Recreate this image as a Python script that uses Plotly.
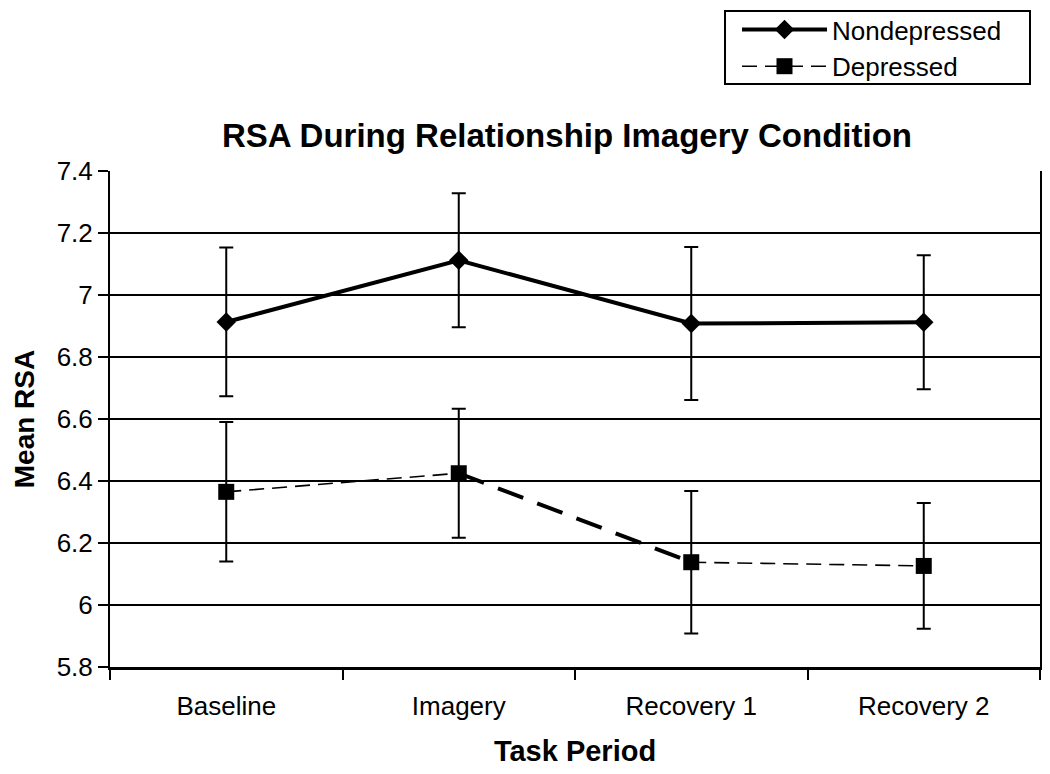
import plotly.graph_objects as go

categories = ["Baseline", "Imagery", "Recovery 1", "Recovery 2"]
nondep_mean = [6.913, 7.112, 6.908, 6.912]
nondep_err = [0.240, 0.216, 0.247, 0.216]
dep_mean = [6.365, 6.425, 6.138, 6.126]
dep_err = [0.225, 0.208, 0.230, 0.203]
y_ticks = [5.8, 6.0, 6.2, 6.4, 6.6, 6.8, 7.0, 7.2, 7.4]
y_ticktext = ["5.8", "6", "6.2", "6.4", "6.6", "6.8", "7", "7.2", "7.4"]

FONT = "Arial, Liberation Sans, sans-serif"
W, H = 1050, 774
ML, MR, MT, MB = 102, 18, 163, 115
PW, PH = W - ML - MR, H - MT - MB


def px_to_paper_x(px):
    return (px - ML) / PW


def px_to_paper_y(py):
    return (H - MB - py) / PH


fig = go.Figure()

fig.add_trace(go.Scatter(
    x=categories, y=nondep_mean, name="Nondepressed", mode="lines+markers",
    line=dict(color="black", width=4),
    marker=dict(symbol="diamond", size=15, color="black"),
    error_y=dict(type="data", array=nondep_err, color="black", thickness=2, width=7),
))

# thick dashed middle segment (Imagery -> Recovery 1)
fig.add_trace(go.Scatter(
    x=categories[1:3], y=dep_mean[1:3], mode="lines", showlegend=False,
    line=dict(color="black", width=4, dash="27px,15px"), hoverinfo="skip",
))

# main depressed trace: thin dashed outer segments with gap in the middle
dx = categories[0:2] + [categories[1]] + categories[2:4]
dy = dep_mean[0:2] + [None] + dep_mean[2:4]
de = dep_err[0:2] + [0] + dep_err[2:4]
fig.add_trace(go.Scatter(
    x=dx, y=dy, name="Depressed", mode="lines+markers", connectgaps=False,
    line=dict(color="black", width=1.6, dash="15px,8px"),
    marker=dict(symbol="square", size=16, color="black"),
    error_y=dict(type="data", array=de, color="black", thickness=2, width=7),
))

# legend frame
fig.add_shape(type="rect", xref="paper", yref="paper",
              x0=px_to_paper_x(717), x1=px_to_paper_x(1022),
              y0=px_to_paper_y(76), y1=px_to_paper_y(3),
              line=dict(color="black", width=2), fillcolor="rgba(0,0,0,0)", layer="above")

fig.update_layout(
    width=W, height=H,
    margin=dict(l=ML, r=MR, t=MT, b=MB, autoexpand=False),
    paper_bgcolor="white", plot_bgcolor="white",
    font=dict(family=FONT, color="black", size=26),
    title=dict(text="<b>RSA During Relationship Imagery Condition</b>",
               x=559 / 1050, xanchor="center", y=1 - 127 / 774, yanchor="middle",
               font=dict(size=33, family=FONT, color="black")),
    showlegend=True,
    legend=dict(x=729 / 1050, xanchor="left", y=px_to_paper_y(-2), yanchor="top",
                xref="container", yref="paper",
                borderwidth=0, bgcolor="rgba(0,0,0,0)",
                font=dict(size=26, family=FONT), itemwidth=85,
                tracegroupgap=0),
    xaxis=dict(
        type="category", categoryorder="array", categoryarray=categories,
        range=[-0.5, 3.5], tickson="boundaries", ticks="outside", ticklen=10,
        tickwidth=1.5, tickcolor="black", showline=True, linecolor="black",
        linewidth=2.5, showgrid=False, ticklabelstandoff=14, automargin=False,
        tickfont=dict(size=26, family=FONT),
        title=dict(text="<b>Task Period</b>", font=dict(size=29, family=FONT), standoff=21),
    ),
    yaxis=dict(
        range=[5.8, 7.4], tickvals=y_ticks, ticktext=y_ticktext,
        ticks="outside", ticklen=10, tickwidth=1.5, tickcolor="black",
        showline=True, linecolor="black", linewidth=2, mirror=True,
        showgrid=True, gridcolor="black", gridwidth=1.5, zeroline=False,
        ticklabelstandoff=0, tickfont=dict(size=26, family=FONT), automargin=False,
        title=dict(text="<b>Mean RSA</b>", font=dict(size=28, family=FONT), standoff=14),
    ),
)

fig.write_html("out.html")
